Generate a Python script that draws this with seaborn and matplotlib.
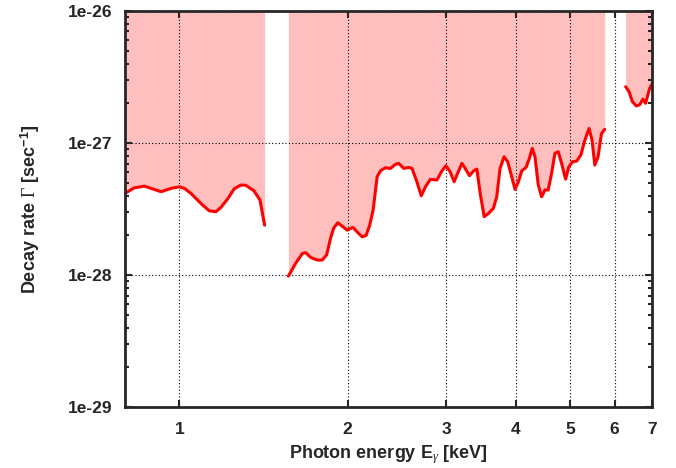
import numpy as np
import pandas as pd
import matplotlib
matplotlib.use("Agg")
import matplotlib.pyplot as plt
import seaborn as sns
from matplotlib.ticker import LogLocator, NullFormatter, FixedLocator, NullLocator

# Upper limit on decay rate, three energy segments (keV, sec^-1)
seg1_energy = [0.803, 0.831, 0.866, 0.897, 0.928, 0.967, 1.0, 1.021, 1.049, 1.093,
               1.131, 1.163, 1.187, 1.22, 1.253, 1.288, 1.315, 1.36, 1.394, 1.421]
seg1_rate = [4.20e-28, 4.58e-28, 4.72e-28, 4.49e-28, 4.28e-28, 4.54e-28, 4.66e-28, 4.54e-28,
             4.16e-28, 3.49e-28, 3.07e-28, 3.02e-28, 3.26e-28, 3.77e-28, 4.49e-28, 4.81e-28,
             4.79e-28, 4.35e-28, 3.70e-28, 2.39e-28]

seg2_energy = [1.567, 1.615, 1.66, 1.682, 1.718, 1.765, 1.801, 1.834, 1.864, 1.889,
               1.92, 1.955, 1.996, 2.043, 2.085, 2.123, 2.158, 2.19, 2.221, 2.258,
               2.289, 2.335, 2.385, 2.434, 2.468, 2.519, 2.57, 2.606, 2.653, 2.708,
               2.754, 2.81, 2.888, 2.948, 2.998, 3.05, 3.10, 3.148, 3.201, 3.244,
               3.302, 3.357, 3.404, 3.451, 3.508, 3.57, 3.643, 3.694, 3.745, 3.807,
               3.865, 3.929, 3.983, 4.038, 4.095, 4.168, 4.225, 4.276, 4.324, 4.383,
               4.444, 4.505, 4.566, 4.63, 4.694, 4.759, 4.825, 4.904, 4.97, 5.047,
               5.131, 5.223, 5.309, 5.403, 5.47, 5.531, 5.606, 5.685, 5.762]
seg2_rate = [9.82e-29, 1.23e-28, 1.46e-28, 1.48e-28, 1.36e-28, 1.30e-28, 1.30e-28, 1.42e-28,
             1.90e-28, 2.28e-28, 2.49e-28, 2.35e-28, 2.19e-28, 2.30e-28, 2.10e-28, 1.95e-28,
             2.00e-28, 2.39e-28, 3.11e-28, 5.56e-28, 6.16e-28, 6.50e-28, 6.42e-28, 6.90e-28,
             7.02e-28, 6.43e-28, 6.54e-28, 6.43e-28, 5.25e-28, 3.99e-28, 4.66e-28, 5.31e-28,
             5.25e-28, 6.16e-28, 6.73e-28, 6.06e-28, 5.09e-28, 5.96e-28, 7.02e-28, 6.43e-28,
             5.66e-28, 6.14e-28, 6.35e-28, 4.16e-28, 2.77e-28, 2.93e-28, 3.20e-28, 3.92e-28,
             6.43e-28, 7.87e-28, 7.22e-28, 5.56e-28, 4.46e-28, 5.09e-28, 6.16e-28, 6.54e-28,
             7.65e-28, 9.12e-28, 7.87e-28, 4.81e-28, 3.92e-28, 4.41e-28, 4.41e-28, 5.89e-28,
             8.36e-28, 8.60e-28, 7.02e-28, 5.33e-28, 6.61e-28, 7.22e-28, 7.29e-28, 8.11e-28,
             1.05e-27, 1.29e-27, 1.05e-27, 6.81e-28, 7.87e-28, 1.18e-27, 1.27e-27]

seg3_energy = [6.281, 6.368, 6.456, 6.563, 6.653, 6.744, 6.818, 6.932, 7.0]
seg3_rate = [2.67e-27, 2.45e-27, 2.06e-27, 1.91e-27, 1.95e-27, 2.15e-27, 2.00e-27, 2.59e-27, 2.8e-27]

x_ticks = [1, 2, 3, 4, 5, 6, 7]
y_ticks = [1e-29, 1e-28, 1e-27, 1e-26]
y_tick_labels = ["1e-29", "1e-28", "1e-27", "1e-26"]

df = pd.concat([
    pd.DataFrame({"energy": e, "rate": r, "segment": i})
    for i, (e, r) in enumerate([(seg1_energy, seg1_rate),
                                (seg2_energy, seg2_rate),
                                (seg3_energy, seg3_rate)])
], ignore_index=True)

sns.set_style("ticks")
plt.rcParams["font.family"] = ["Liberation Sans", "DejaVu Sans"]
# serif greek letters, sans bold superscript (like the original)
plt.rcParams["mathtext.fontset"] = "custom"
plt.rcParams["mathtext.rm"] = "Liberation Serif"
plt.rcParams["mathtext.it"] = "Liberation Serif:italic"
plt.rcParams["mathtext.bf"] = "Liberation Sans:bold"

fig = plt.figure(figsize=(6.76, 4.68), dpi=100)
ax = fig.add_axes([0.185, 0.130, 0.7795, 0.8465])

ymax = 1e-26
for seg, part in df.groupby("segment"):
    ax.fill_between(part["energy"], part["rate"], ymax, color="#ffbfbf", lw=0, zorder=1)
    sns.lineplot(data=part, x="energy", y="rate", ax=ax, color="#ff0000",
                 lw=2.2, estimator=None, sort=False, zorder=3)

ax.set_xscale("log")
ax.set_yscale("log")
ax.set_xlim(0.8, 7.0)
ax.set_ylim(1e-29, 1e-26)

ax.xaxis.set_major_locator(FixedLocator(x_ticks))
ax.xaxis.set_minor_locator(NullLocator())
ax.set_xticklabels([str(t) for t in x_ticks])
ax.yaxis.set_major_locator(FixedLocator(y_ticks))
ax.set_yticklabels(y_tick_labels)
ax.yaxis.set_minor_locator(LogLocator(base=10, subs=np.arange(2, 10)))
ax.yaxis.set_minor_formatter(NullFormatter())

ax.grid(True, which="major", color="black", linestyle=(0, (1, 2)), lw=0.8, zorder=2)
ax.set_axisbelow(False)

ax.tick_params(which="both", direction="in", top=True, right=True, width=1.5)
ax.tick_params(which="major", length=5, labelsize=12.5)
ax.tick_params(axis="x", which="major", pad=11)
ax.tick_params(axis="y", which="major", pad=9)
ax.tick_params(which="minor", length=3)
for lab in ax.get_xticklabels() + ax.get_yticklabels():
    lab.set_fontweight("bold")
for sp in ax.spines.values():
    sp.set_linewidth(2)
    sp.set_zorder(4)

ax.set_xlabel(r"Photon energy E$_\gamma$ [keV]", fontsize=13, fontweight="bold", labelpad=4)
ax.set_ylabel(r"Decay rate $\Gamma$ [sec$^{\mathbf{-1}}$]", fontsize=13, fontweight="bold",
              labelpad=19)

fig.savefig("out.png", dpi=100)
